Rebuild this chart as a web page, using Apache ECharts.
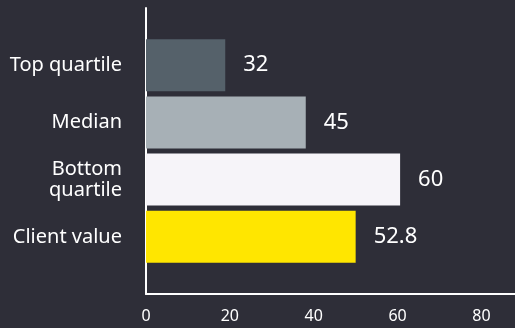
<!DOCTYPE html>
<html>
<head>
<meta charset="utf-8">
<script src="https://cdn.jsdelivr.net/npm/echarts@6/dist/echarts.min.js"></script>
<style>
  html, body { margin: 0; padding: 0; background: #2e2e38; }
  #chart { width: 515px; height: 328px; }
</style>
</head>
<body>
<div id="chart"></div>
<script>
// categories, bottom to top (empty slots pad the axis ends)
var categories = ['', 'Client value', 'Bottom\nquartile', 'Median', 'Top quartile', ''];
// bar lengths as drawn in the picture
var barValues = ['-', 50, 60.6, 38.1, 18.9, '-'];
// value labels printed beside the bars
var barLabels = ['', '52.8', '60', '45', '32', ''];
var barColors = ['', '#ffe600', '#f6f4f9', '#a7b0b6', '#55616a', ''];
var xTicks = [0, 20, 40, 60, 80];

var myChart = echarts.init(document.getElementById('chart'));

var option = {
    backgroundColor: '#2e2e38',
    animation: false,
    grid: { left: 146, right: 0, top: 8, bottom: 34 },
    xAxis: {
        type: 'value',
        min: xTicks[0],
        max: 88,
        interval: xTicks[1] - xTicks[0],
        axisLine: { show: true, lineStyle: { color: '#ffffff', width: 2 } },
        axisTick: { show: false },
        splitLine: { show: false },
        axisLabel: {
            color: '#ffffff',
            fontFamily: 'Noto Sans',
            fontSize: 16,
            margin: 14,
            showMaxLabel: false
        }
    },
    yAxis: {
        type: 'category',
        data: categories,
        boundaryGap: false,
        axisLine: { show: true, lineStyle: { color: '#ffffff', width: 2 } },
        axisTick: { show: false },
        axisLabel: {
            color: '#ffffff',
            fontFamily: 'Noto Sans',
            fontSize: 20,
            lineHeight: 21,
            margin: 24,
            align: 'right'
        }
    },
    series: [{
        type: 'bar',
        barWidth: 52,
        data: barValues.map(function (v, i) {
            return { value: v, itemStyle: { color: barColors[i] } };
        }),
        label: {
            show: true,
            position: 'right',
            distance: 18,
            color: '#ffffff',
            fontFamily: 'Noto Sans',
            fontSize: 22,
            formatter: function (p) { return barLabels[p.dataIndex]; }
        }
    }]
};

myChart.setOption(option);
</script>
</body>
</html>
